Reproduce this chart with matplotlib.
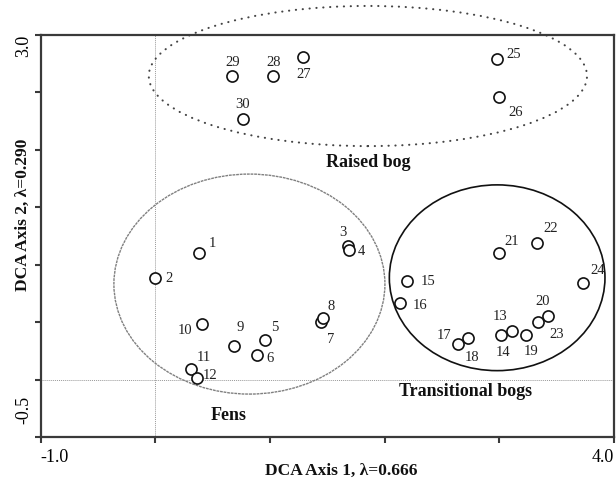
import matplotlib
matplotlib.use("Agg")
import matplotlib.pyplot as plt
from matplotlib.patches import Ellipse
from matplotlib.transforms import ScaledTranslation

plt.rcParams['font.family'] = ['Liberation Serif', 'DejaVu Serif']

# DCA site scores
sites = list(range(1, 31))
axis1 = [0.38, 0.00, 1.68, 1.69, 0.96, 0.89, 1.44, 1.46, 0.69, 0.41,
         0.31, 0.36, 3.11, 3.01, 2.19, 2.13, 2.64, 2.73, 3.23, 3.42,
         3.00, 3.33, 3.34, 3.73, 2.98, 3.00, 1.29, 1.03, 0.67, 0.76]
axis2 = [1.10, 0.88, 1.16, 1.13, 0.34, 0.21, 0.50, 0.54, 0.29, 0.48,
         0.09, 0.01, 0.42, 0.39, 0.86, 0.67, 0.31, 0.36, 0.39, 0.55,
         1.10, 1.19, 0.50, 0.84, 2.79, 2.46, 2.81, 2.64, 2.64, 2.27]

# label offsets in pixels (dx, dy) -- dy positive = up
label_offsets = [(13, 10), (14, 0), (-5, 14), (12, -2), (9, 13), (13, -3),
                 (10, -17), (8, 11), (6, 19), (-17, -6), (13, 12), (13, 3),
                 (-12, 15), (2, -18), (22, -1), (20, -3), (-14, 8), (4, -19),
                 (5, -17), (-5, 15), (12, 12), (13, 14), (18, -12), (14, 13),
                 (17, 5), (16, -16), (0, -18), (0, 14), (0, 14), (0, 14)]

# group ellipses: name, centre, width, height
groups = ["Raised bog", "Fens", "Transitional bogs"]
centres = [(1.853, 2.642), (0.820, 0.831), (2.980, 0.886)]
widths = [3.82, 2.363, 1.880]
heights = [1.22, 1.915, 1.617]
group_text_pos = [(1.853, 1.885), (0.642, -0.31), (2.708, -0.10)]

xticks = [-1.0, 0.0, 1.0, 2.0, 3.0, 4.0]
xticklabels = ["-1.0", "", "", "", "", "4.0"]
yticks = [-0.5, 0.0, 0.5, 1.0, 1.5, 2.0, 2.5, 3.0]
yticklabels = ["-0.5", "", "", "", "", "", "", "3.0"]

fig = plt.figure(figsize=(6.16, 4.78), dpi=100)
ax = fig.add_axes([0.066, 0.0858, 0.931, 0.8412])
ax.set_xlim(-1.0, 4.0)
ax.set_ylim(-0.5, 3.0)

spine_col = '#3a3a3a'
for s in ax.spines.values():
    s.set_color(spine_col)
    s.set_linewidth(1.6)

# zero lines
ax.axvline(0, color='#999999', lw=0.7, ls=(0, (1, 1)), zorder=1)
ax.axhline(0, color='#999999', lw=0.7, ls=(0, (1, 1)), zorder=1)

# ellipses
styles = [dict(edgecolor='#444444', lw=1.5, ls=(0, (0.1, 3.2)), capstyle='round'),
          dict(edgecolor='#808080', lw=1.0, ls=(0, (2, 0.6))),
          dict(edgecolor='#111111', lw=1.2, ls='-')]
for c, w, h, st in zip(centres, widths, heights, styles):
    e = Ellipse(c, w, h, facecolor='none', clip_on=False, **st)
    ax.add_patch(e)

ax.plot(axis1, axis2, 'o', ms=8, mfc='white', mec='#111111', mew=1.2,
        zorder=3, clip_on=False)

for s, x, y, (dx, dy) in zip(sites, axis1, axis2, label_offsets):
    ax.annotate(str(s), (x, y), xytext=(dx, dy), textcoords='offset pixels',
                ha='center', va='center', fontsize=10.5, color='#222222')

for g, (tx, ty) in zip(groups, group_text_pos):
    ax.text(tx, ty, g, ha='center', va='center', fontsize=13,
            fontweight='bold', color='#111111')

ax.set_xticks(xticks)
ax.set_xticklabels(xticklabels, fontsize=13)
ax.set_yticks(yticks)
ax.set_yticklabels(yticklabels, fontsize=13, rotation=90, va='center')
ax.tick_params(direction='out', length=4, width=1.5, color=spine_col, pad=5)
ax.tick_params(axis='y', pad=2)

xl = ax.get_xticklabels()
xl[0].set_ha('left')
xl[-1].set_ha('right')
yl = ax.get_yticklabels()
yl[0].set_va('bottom')
yl[0].set_transform(yl[0].get_transform() + ScaledTranslation(0, 9 / 72, fig.dpi_scale_trans))
yl[-1].set_va('top')

fig.text(341 / 616, 1 - 471 / 478, "DCA Axis 1, λ=0.666", fontsize=12.5,
         fontweight='bold', ha='center', va='center', color='#111111')
fig.text(23 / 616, 1 - 215 / 478, "DCA Axis 2, λ=0.290", fontsize=12.5,
         fontweight='bold', ha='center', va='center', rotation=90, color='#111111')

fig.savefig("out.png", dpi=100)
